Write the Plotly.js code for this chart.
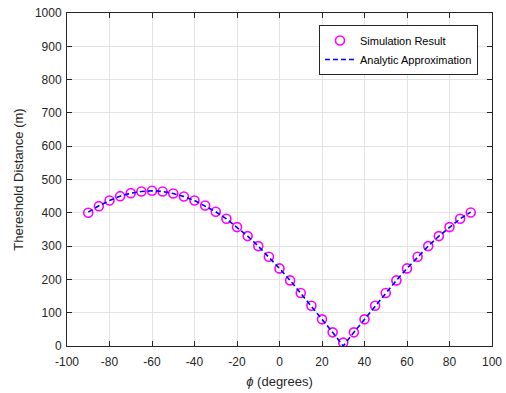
<!DOCTYPE html>
<html>
<head>
<meta charset="utf-8">
<script src="https://cdn.plot.ly/plotly-3.0.1.min.js"></script>
<style>html,body{margin:0;padding:0;background:#fff;}#chart{width:506px;height:393px;}</style>
</head>
<body>
<div id="chart"></div>
<script>
const phi = [-90,-85,-80,-75,-70,-65,-60,-55,-50,-45,-40,-35,-30,-25,-20,-15,-10,-5,0,5,10,15,20,25,30,35,40,45,50,55,60,65,70,75,80,85,90];
const simulation = [400,420,437,450,459,464,466,464,458,449,437,422,403,382,357,330,300,268,233,197,159,121,80,41,10,41,80,121,159,197,233,268,300,330,357,382,401];
const analytic = [402,421,437,450,459,464,466,464,458,449,437,421,403,382,357,330,300,267,233,197,159,121,80,41,0,41,80,121,159,197,233,267,300,330,357,382,402];
const xTicks = [-100,-80,-60,-40,-20,0,20,40,60,80,100];
const xTickText = ['-100','-80','-60','-40','-20','0','20','40','60','80','100'];
const yTicks = [0,100,200,300,400,500,600,700,800,900,1000];

const traces = [
  {x: phi, y: simulation, name: 'Simulation Result', type: 'scatter', mode: 'markers',
   marker: {symbol: 'circle-open', size: 9, color: '#ff00ff', line: {width: 1.6, color: '#ff00ff'}}},
  {x: phi, y: analytic, name: 'Analytic Approximation', type: 'scatter', mode: 'lines',
   line: {color: '#0000ff', width: 1.6, dash: '5px,3px'}}
];
const axisCommon = {
  showgrid: true, gridcolor: '#e3e3e3', gridwidth: 1,
  showline: true, linecolor: '#262626', linewidth: 1, mirror: 'ticks',
  ticks: 'inside', ticklen: 5, tickcolor: '#262626', zeroline: false,
  tickfont: {family: 'Liberation Sans, Arial, sans-serif', size: 12, color: '#262626'}
};
const layout = {
  width: 506, height: 393,
  margin: {l: 67, r: 14, t: 13, b: 47},
  paper_bgcolor: '#ffffff', plot_bgcolor: '#ffffff',
  font: {family: 'Liberation Sans, Arial, sans-serif', size: 12, color: '#262626'},
  xaxis: Object.assign({}, axisCommon, {range: [-100, 100], tickmode: 'array', tickvals: xTicks, ticktext: xTickText,
    ticklabelstandoff: 5,
    title: {text: '<i>ϕ</i> (degrees)', standoff: 8, font: {size: 13, color: '#262626'}}}),
  yaxis: Object.assign({}, axisCommon, {range: [0, 1000], tickmode: 'array', tickvals: yTicks,
    ticklabelstandoff: 2,
    title: {text: 'Thereshold Distance (m)', standoff: 8, font: {size: 13, color: '#262626'}}}),
  showlegend: true,
  legend: {x: 0.967, xanchor: 'right', y: 0.964, yanchor: 'top',
    bgcolor: '#ffffff', bordercolor: '#262626', borderwidth: 1,
    font: {size: 11, color: '#000'}, tracegroupgap: 0, itemwidth: 30}
};
Plotly.newPlot('chart', traces, layout, {staticPlot: true, displayModeBar: false});
</script>
</body>
</html>
